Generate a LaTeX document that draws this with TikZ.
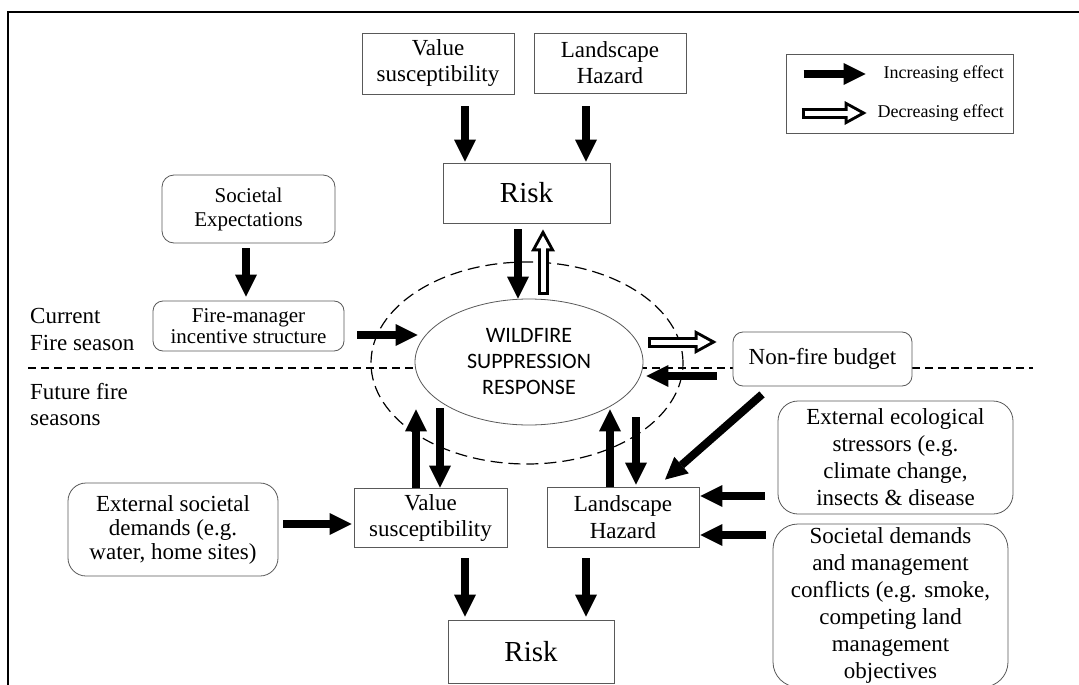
\documentclass[tikz,border=0pt]{standalone}
\usepackage{fontspec}
\setmainfont{Liberation Serif}
\newfontfamily\capsfont{Carlito}
\usetikzlibrary{arrows.meta}
\usetikzlibrary{calc}
\usetikzlibrary{shapes.geometric}
\tikzset{inc/.style = {line width=8pt, -{Triangle[width=22pt, length=22pt, line width=0pt]}},
         dec/.style = {draw=white, line width=5pt, shorten <=3pt, shorten >=6.3pt,
                       -{Triangle[width=14pt, length=12.7pt, line width=0pt]},
                       preaction={draw=black, line width=11pt, shorten <=0pt, shorten >=0pt,
                                  -{Triangle[width=24pt, length=22pt, line width=0pt]}}},
         box/.style = {draw=black!65, line width=0.8pt, fill=white, align=center,
                       inner sep=0pt, font=\fontsize{23}{26}\selectfont},
         rbox/.style = {box, rounded corners=#1},
         rbox/.default = 12pt}

\begin{document}
\begin{tikzpicture}[x=1pt, y=-1pt]
    \useasboundingbox (0, 0) rectangle (1079, 685);
    \draw [line width=2.5pt] (8, 700) -- (8, 12) -- (1100, 12);
    \draw [dash pattern=on 8pt off 5pt, line width=1.2pt] (28, 368) -- (1033, 368);
    \draw [dash pattern=on 12pt off 6pt, line width=1.2pt] (527, 363) ellipse [x radius=156pt, y radius=101pt];
    \node (vtop) at (438, 63.5) [box, minimum width=152pt, minimum height=61pt] {Value\\susceptibility};
    \node (ltop) at (610, 63) [box, minimum width=152pt, minimum height=60pt] {Landscape\\Hazard};
    \node (risk1) at (526.5, 193) [box, minimum width=167pt, minimum height=60pt, font=\fontsize{29}{32}\selectfont] {Risk};
    \node (soc) at (248.5, 209) [rbox, minimum width=173pt, minimum height=68pt, font=\fontsize{21}{24}\selectfont] {Societal\\Expectations};
    \node (fm) at (248.5, 326) [rbox=10pt, minimum width=191pt, minimum height=50pt, font=\fontsize{21}{21}\selectfont] {Fire-manager\\incentive structure};
    \node (wsr) at (529, 362) [ellipse, draw=black!65, line width=0.8pt, fill=white, inner sep=0pt,
                               minimum width=228pt, minimum height=126pt, align=center,
                               font=\capsfont\fontsize{22}{26}\selectfont] {WILDFIRE\\SUPPRESSION\\RESPONSE};
    \node (nfb) at (822.5, 359) [rbox=10pt, minimum width=179pt, minimum height=54pt] {Non-fire budget};
    \node (cur) at (30, 329.5) [anchor=west, align=left, inner sep=0pt, font=\fontsize{23}{27}\selectfont] {Current\\Fire season};
    \node (fut) at (30, 405) [anchor=west, align=left, inner sep=0pt, font=\fontsize{23}{26}\selectfont] {Future fire\\seasons};
    \node (exts) at (173, 529.5) [rbox=18pt, minimum width=210pt, minimum height=93pt, font=\fontsize{23}{24}\selectfont] {External societal\\demands (e.g.\\water, home sites)};
    \node (vbot) at (430.5, 517.5) [box, minimum width=153pt, minimum height=59pt] {Value\\susceptibility};
    \node (lbot) at (623, 517) [box, minimum width=152pt, minimum height=60pt, font=\fontsize{23}{27}\selectfont] {Landscape\\Hazard};
    \node (risk2) at (531, 651.5) [box, minimum width=166pt, minimum height=63pt, font=\fontsize{29}{32}\selectfont] {Risk};
    \node (eco) at (895.5, 457.5) [rbox=20pt, minimum width=235pt, minimum height=113pt, font=\fontsize{23}{27}\selectfont] {External ecological\\stressors (e.g.\\climate change,\\insects \& disease};
    \node (sdm) at (890.5, 605.5) [rbox=25pt, minimum width=235pt, minimum height=163pt, font=\fontsize{23}{27}\selectfont] {Societal demands\\and management\\conflicts (e.g. smoke,\\competing land\\management\\objectives};
    \node (lgd) at (899.5, 93.5) [box, minimum width=227pt, minimum height=79pt] {};
    \node (linc) at (1004, 74) [anchor=east, inner sep=0pt, font=\fontsize{18}{20}\selectfont] {Increasing effect};
    \node (ldec) at (1004, 113) [anchor=east, inner sep=0pt, font=\fontsize{18}{20}\selectfont] {Decreasing effect};
    \draw [inc] ($(lgd.west) + (18, -19.5)$) -- ($(lgd.west) + (80, -19.5)$);
    \draw [dec] ($(lgd.west) + (16, 19.5)$) -- ($(lgd.west) + (81, 19.5)$);
    \draw [inc] ($(vtop.south) + (27, 12)$) -- ($(risk1.north) + (-61.5, -1)$);
    \draw [inc] ($(ltop.south) + (-24, 13)$) -- ($(risk1.north) + (59.5, -1)$);
    \draw [inc] ($(risk1.south) + (-8.5, 6)$) -- ($(wsr.north) + (-11, 0)$);
    \draw [dec] ($(wsr.north) + (14, -4)$) -- ($(risk1.south) + (16.5, 6)$);
    \draw [inc] ($(soc.south) + (-2.5, 5)$) -- ($(fm.north) + (-2.5, -4)$);
    \draw [inc] ($(fm.east) + (13, 9)$) -- ($(wsr.west) + (3, -27)$);
    \draw [dec] ($(wsr.east) + (5, -20)$) -- ($(nfb.west) + (-16, -17)$);
    \draw [inc] ($(nfb.west) + (-16, 17)$) -- ($(wsr.east) + (3, 14)$);
    \draw [inc] ($(nfb.south) + (-60.5, 8)$) -- ($(lbot.north) + (42, -7)$);
    \draw [inc] ($(vbot.north) + (-14.5, 0)$) -- ($(wsr.south) + (-113, -16)$);
    \draw [inc] ($(wsr.south) + (-89, -17)$) -- ($(vbot.north) + (9.5, 0)$);
    \draw [inc] ($(lbot.north) + (-13, 0)$) -- ($(wsr.south) + (81, -16)$);
    \draw [inc] ($(wsr.south) + (107, -8)$) -- ($(lbot.north) + (13, -2)$);
    \draw [inc] ($(exts.east) + (5, -5.5)$) -- ($(vbot.west) + (-2, 6.5)$);
    \draw [inc] ($(eco.west) + (-13, 38.5)$) -- ($(lbot.east) + (1, -21)$);
    \draw [inc] ($(sdm.west) + (-7, -70.5)$) -- ($(lbot.east) + (1, 18)$);
    \draw [inc] ($(vbot.south) + (34.5, 11)$) -- ($(risk2.north) + (-66, -3)$);
    \draw [inc] ($(lbot.south) + (-37, 11)$) -- ($(risk2.north) + (55, -3)$);
\end{tikzpicture}
\end{document}
